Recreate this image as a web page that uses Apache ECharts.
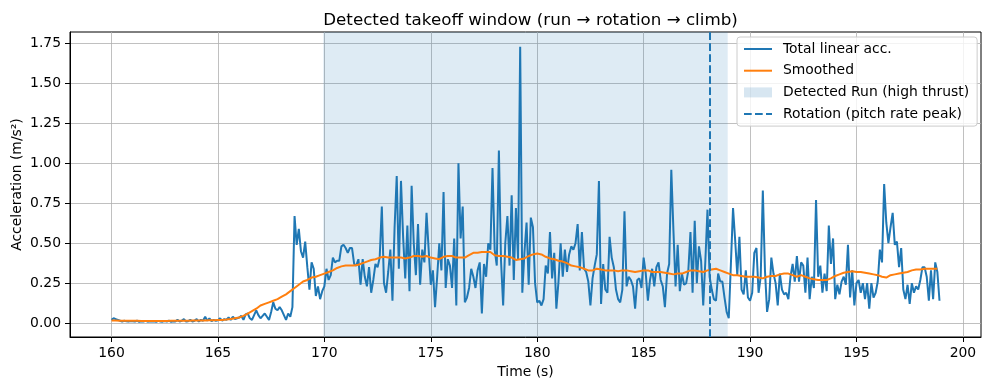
<!DOCTYPE html>
<html><head><meta charset="utf-8">
<script src="https://cdn.jsdelivr.net/npm/echarts@6/dist/echarts.min.js"></script>
<style>html,body{margin:0;padding:0;background:#fff}#c{width:989px;height:390px}</style>
</head><body><div id="c"></div>
<script>
// ---- data ----
const sampleStart = 160.0;   // s
const sampleStep = 0.1;      // s
const accTotal = [
0.02,0.03,0.025,0.02,0.015,0.01,0.015,0.012,0.01,0.013,
0.012,0.01,0.015,0.008,0.012,0.01,0.014,0.009,0.011,0.01,
0.012,0.008,0.014,0.01,0.009,0.013,0.01,0.015,0.008,0.012,
0.01,0.02,0.01,0.015,0.025,0.01,0.012,0.02,0.01,0.015,
0.025,0.01,0.02,0.015,0.04,0.015,0.03,0.012,0.02,0.015,
0.018,0.03,0.015,0.025,0.02,0.035,0.02,0.04,0.025,0.03,
0.035,0.045,0.02,0.055,0.06,0.03,0.02,0.05,0.08,0.05,
0.03,0.045,0.06,0.04,0.02,0.07,0.13,0.09,0.08,0.10,
0.08,0.05,0.02,0.06,0.04,0.10,0.67,0.49,0.59,0.45,
0.41,0.51,0.35,0.21,0.38,0.34,0.17,0.23,0.15,0.20,
0.23,0.34,0.27,0.30,0.41,0.38,0.39,0.39,0.48,0.49,
0.47,0.44,0.47,0.47,0.37,0.36,0.40,0.24,0.40,0.29,
0.23,0.35,0.19,0.27,0.37,0.35,0.41,0.73,0.25,0.19,
0.32,0.46,0.14,0.60,0.92,0.34,0.89,0.54,0.28,0.61,
0.20,0.86,0.50,0.30,0.62,0.24,0.46,0.38,0.69,0.46,
0.24,0.33,0.10,0.29,0.50,0.33,0.82,0.22,0.40,0.36,
0.22,0.53,0.11,1.00,0.53,0.73,0.13,0.16,0.22,0.34,
0.29,0.22,0.33,0.38,0.06,0.37,0.29,0.50,0.46,0.97,
0.46,0.36,1.08,0.39,0.11,0.50,0.67,0.36,0.80,0.27,
0.72,0.40,1.73,0.19,0.44,0.63,0.24,0.66,0.60,0.25,
0.13,0.14,0.11,0.15,0.36,0.31,0.57,0.28,0.44,0.09,
0.26,0.50,0.29,0.46,0.32,0.43,0.48,0.46,0.50,0.62,
0.33,0.57,0.34,0.32,0.26,0.11,0.28,0.36,0.43,0.89,
0.12,0.37,0.21,0.19,0.54,0.41,0.35,0.21,0.15,0.13,
0.21,0.70,0.23,0.29,0.27,0.23,0.09,0.27,0.28,0.22,
0.41,0.31,0.14,0.27,0.34,0.23,0.35,0.38,0.27,0.23,
0.10,0.31,0.37,0.96,0.58,0.23,0.49,0.20,0.31,0.24,
0.25,0.33,0.57,0.19,0.64,0.25,0.48,0.39,0.11,0.39,
0.71,0.29,0.21,0.15,0.14,0.31,0.26,0.26,0.16,0.07,
0.03,0.37,0.72,0.52,0.30,0.54,0.21,0.18,0.33,0.16,
0.14,0.19,0.44,0.47,0.19,0.29,0.83,0.33,0.07,0.15,
0.41,0.31,0.25,0.11,0.31,0.21,0.18,0.19,0.15,0.29,
0.37,0.26,0.42,0.26,0.38,0.36,0.19,0.41,0.15,0.29,
0.22,0.77,0.29,0.36,0.19,0.31,0.20,0.61,0.37,0.53,
0.15,0.24,0.18,0.26,0.29,0.24,0.49,0.16,0.33,0.11,
0.25,0.27,0.19,0.25,0.15,0.25,0.09,0.25,0.16,0.19,
0.26,0.46,0.38,0.87,0.63,0.50,0.60,0.69,0.49,0.51,
0.35,0.47,0.21,0.15,0.24,0.12,0.25,0.19,0.23,0.21,
0.27,0.35,0.35,0.29,0.14,0.33,0.15,0.38,0.32,0.14
];
const smoothStart = 160.0;   // s
const smoothStep = 0.2;      // s
const accSmoothed = [
0.016,0.016,0.015,0.015,0.014,0.014,0.014,0.013,0.013,0.013,
0.013,0.013,0.013,0.013,0.014,0.014,0.014,0.015,0.015,0.016,
0.016,0.017,0.017,0.018,0.018,0.019,0.02,0.022,0.025,0.03,
0.035,0.045,0.06,0.075,0.09,0.11,0.12,0.13,0.14,0.15,
0.165,0.18,0.20,0.22,0.24,0.26,0.27,0.285,0.29,0.30,
0.31,0.32,0.33,0.345,0.355,0.36,0.36,0.36,0.365,0.375,
0.385,0.395,0.40,0.41,0.415,0.41,0.41,0.41,0.41,0.405,
0.41,0.42,0.42,0.415,0.42,0.41,0.405,0.40,0.415,0.42,
0.42,0.41,0.41,0.41,0.425,0.44,0.44,0.445,0.445,0.445,
0.425,0.42,0.42,0.415,0.41,0.395,0.40,0.405,0.42,0.43,
0.435,0.43,0.415,0.405,0.40,0.39,0.385,0.375,0.36,0.355,
0.35,0.34,0.33,0.33,0.34,0.335,0.33,0.33,0.33,0.325,
0.33,0.33,0.325,0.32,0.325,0.33,0.33,0.32,0.32,0.32,
0.315,0.31,0.305,0.31,0.31,0.32,0.33,0.33,0.325,0.32,
0.33,0.335,0.34,0.33,0.32,0.31,0.30,0.30,0.295,0.29,
0.29,0.29,0.285,0.28,0.29,0.295,0.295,0.305,0.31,0.31,
0.30,0.29,0.30,0.29,0.28,0.275,0.27,0.27,0.27,0.28,
0.295,0.305,0.315,0.32,0.325,0.32,0.32,0.315,0.31,0.305,
0.30,0.29,0.285,0.30,0.305,0.31,0.315,0.32,0.33,0.335,
0.335,0.34,0.34,0.34,0.34
];
const runSpan = [169.95, 188.95];     // detected run window (s)
const rotationTime = 188.12;          // pitch-rate peak (s)
const xTicks = [160, 165, 170, 175, 180, 185, 190, 195, 200];
const yTicks = [0, 0.25, 0.5, 0.75, 1.0, 1.25, 1.5, 1.75];
const seriesNames = ['Total linear acc.', 'Smoothed', 'Detected Run (high thrust)', 'Rotation (pitch rate peak)'];

// ---- build ----
const r1 = v => Math.round(v * 100) / 100;
const accPairs = accTotal.map((v, i) => [r1(sampleStart + i * sampleStep), v]);
const smoothPairs = accSmoothed.map((v, i) => [r1(smoothStart + i * smoothStep), v]);

const FONT = 'DejaVu Sans';
const chart = echarts.init(document.getElementById('c'), null, {renderer: 'canvas'});
chart.setOption({
  animation: false,
  backgroundColor: '#ffffff',
  textStyle: {fontFamily: FONT},
  title: {
    text: 'Detected takeoff window (run → rotation → climb)',
    left: 525.5, top: 7, textAlign: 'center',
    textStyle: {fontFamily: FONT, fontSize: 16.7, fontWeight: 'normal', color: '#000'}
  },
  grid: {left: 70, right: 8, top: 32, bottom: 53, show: true, borderColor: '#000', borderWidth: 1,
         backgroundColor: 'transparent', containLabel: false, outerBoundsMode: 'none'},
  legend: {
    orient: 'vertical', left: 737, top: 37,
    padding: [5, 8, 5, 6],
    itemWidth: 28, itemHeight: 10, itemGap: 7.7,
    backgroundColor: 'rgba(255,255,255,0.8)', borderColor: '#cccccc', borderWidth: 1, borderRadius: 3,
    itemStyle: {opacity: 0},
    textStyle: {fontFamily: FONT, fontSize: 13.9, color: '#000', lineHeight: 14, padding: [0, 0, 0, 6]},
    data: [
      {name: seriesNames[0]},
      {name: seriesNames[1]},
      {name: seriesNames[2], icon: 'rect', itemStyle: {color: 'rgba(31,119,180,0.18)', opacity: 1}},
      {name: seriesNames[3]}
    ]
  },
  xAxis: {
    type: 'value', min: 158.05, max: 200.85, minInterval: 5, maxInterval: 5,
    name: 'Time (s)', nameLocation: 'middle', nameGap: 28, nameMoveOverlap: false,
    nameTextStyle: {fontFamily: FONT, fontSize: 13.9, color: '#000'},
    axisLine: {show: true, onZero: false, lineStyle: {color: '#000', width: 1}},
    axisTick: {show: true, inside: false, length: 5, customValues: xTicks, lineStyle: {color: '#000', width: 1}},
    axisLabel: {show: true, customValues: xTicks, margin: 9, fontFamily: FONT, fontSize: 13.9, color: '#000', formatter: v => String(Math.round(v))},
    splitLine: {show: true, lineStyle: {color: '#b0b0b0', width: 0.8}}
  },
  yAxis: {
    type: 'value', min: -0.087, max: 1.822, minInterval: 0.25, maxInterval: 0.25,
    name: 'Acceleration (m/s²)', nameLocation: 'middle', nameGap: 46, nameRotate: 90, nameMoveOverlap: false,
    nameTextStyle: {fontFamily: FONT, fontSize: 13.9, color: '#000'},
    axisLine: {show: true, onZero: false, lineStyle: {color: '#000', width: 1}},
    axisTick: {show: true, inside: false, length: 5, customValues: yTicks, lineStyle: {color: '#000', width: 1}},
    axisLabel: {show: true, customValues: yTicks, margin: 9, fontFamily: FONT, fontSize: 13.9, color: '#000', formatter: v => v.toFixed(2)},
    splitLine: {show: true, lineStyle: {color: '#b0b0b0', width: 0.8}}
  },
  series: [
    {
      name: seriesNames[0], type: 'line', data: accPairs, showSymbol: false, symbol: 'none',
      lineStyle: {color: '#1f77b4', width: 2}, itemStyle: {color: '#1f77b4'}, z: 3
    },
    {
      name: seriesNames[1], type: 'line', data: smoothPairs, showSymbol: false, symbol: 'none',
      lineStyle: {color: '#ff7f0e', width: 2}, itemStyle: {color: '#ff7f0e'}, z: 4
    },
    {
      name: seriesNames[2], type: 'line', data: [], symbol: 'none', z: 1,
      itemStyle: {color: 'rgba(31,119,180,0.18)'}, lineStyle: {width: 0},
      markArea: {
        silent: true,
        itemStyle: {color: 'rgba(31,119,180,0.15)'},
        data: [[{xAxis: runSpan[0]}, {xAxis: runSpan[1]}]]
      }
    },
    {
      name: seriesNames[3], type: 'line', data: [], symbol: 'none', z: 5,
      itemStyle: {color: '#1f77b4'}, lineStyle: {color: '#1f77b4', width: 2, type: [7.7, 3.3]},
      markLine: {
        silent: true, symbol: ['none', 'none'], label: {show: false},
        lineStyle: {color: '#1f77b4', width: 2, type: [7.7, 3.3]},
        data: [{xAxis: rotationTime}]
      }
    }
  ]
});
</script>
</body></html>
